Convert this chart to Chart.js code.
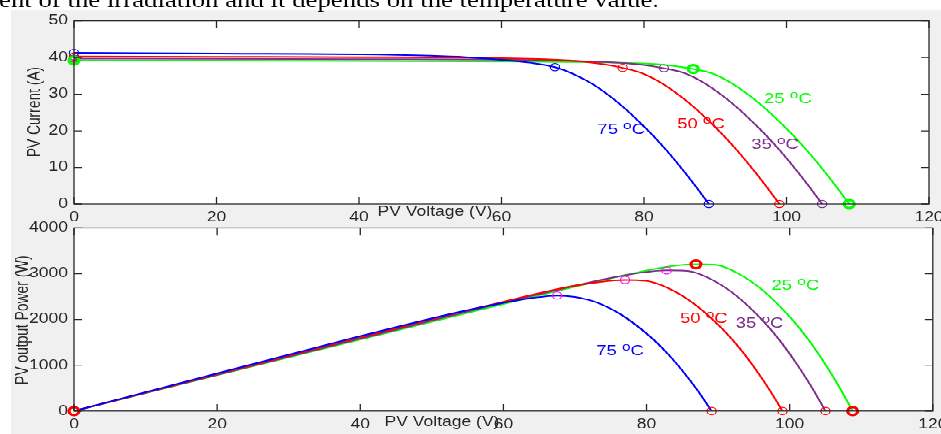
<!DOCTYPE html>
<html><head><meta charset="utf-8">
<script src="https://cdn.jsdelivr.net/npm/chart.js@4.4.1/dist/chart.umd.min.js"></script>
<style>
html,body{margin:0;padding:0;background:#fff;overflow:hidden;width:941px;height:434px;}
#wrap{position:absolute;left:0;top:0;width:941px;height:551px;transform:scaleY(0.78766);transform-origin:0 0;}
#bg{position:absolute;left:11px;top:12.7px;width:930px;height:539px;background:#f0f0f0;}
canvas{position:absolute;left:0;top:0;}
</style></head>
<body>
<div id="wrap">
<div id="bg"></div>
<canvas id="c1" width="941" height="551"></canvas>
<canvas id="c2" width="941" height="551"></canvas>
</div>
<script>
// ---------------- data ----------------
const voltageTicks = [0, 20, 40, 60, 80, 100, 120];
const currentTicks = [0, 10, 20, 30, 40, 50];
const powerTicks = [0, 1000, 2000, 3000, 4000];
const tempNames = ['25', '35', '50', '75'];

// 25 °C
const v25 = [0, 20, 40, 70, 79.5, 83.5, 86.9, 89.7, 92.7, 96.3, 100.1, 102.7, 104.7, 106.7, 108.8];
const i25 = [39.2, 39.15, 39.05, 38.8, 38.4, 37.9, 36.9, 35.6, 32.5, 27.3, 20.4, 15.0, 10.4, 5.5, 0];
const p25 = [0, 783, 1562, 2716, 3053, 3165, 3207, 3193, 3013, 2629, 2042, 1541, 1089, 587, 0];
// 35 °C
const v35 = [0, 20, 40, 65, 75.5, 79.5, 82.8, 85.9, 88.9, 92.5, 96.3, 98.9, 100.9, 102.9, 105.0];
const i35 = [39.7, 39.65, 39.55, 39.3, 38.7, 38.1, 37.1, 35.6, 32.5, 27.3, 20.4, 15.0, 10.4, 5.5, 0];
const p35 = [0, 793, 1582, 2555, 2922, 3029, 3072, 3058, 2889, 2525, 1965, 1484, 1049, 566, 0];
// 50 °C
const v50 = [0, 20, 40, 60, 69.5, 73.5, 77.0, 79.9, 82.9, 86.5, 90.3, 92.9, 94.9, 96.9, 99.0];
const i50 = [40.3, 40.2, 40.1, 39.8, 39.2, 38.4, 37.2, 35.6, 32.5, 27.3, 20.4, 15.0, 10.4, 5.5, 0];
const p50 = [0, 804, 1604, 2388, 2724, 2822, 2864, 2844, 2694, 2361, 1842, 1394, 987, 533, 0];
// 75 °C
const v75 = [0, 20, 40, 50, 55, 60, 64, 67.5, 70, 73, 76.6, 80.4, 83, 85, 87, 89.1];
const i75 = [41.3, 41.1, 40.9, 40.5, 40.1, 39.4, 38.6, 37.4, 35.6, 32.5, 27.3, 20.4, 15.0, 10.4, 5.5, 0];
const p75 = [0, 822, 1636, 2025, 2206, 2364, 2470, 2525, 2492, 2373, 2091, 1640, 1245, 884, 479, 0];

// marked points, order 25, 35, 50, 75
const mppV = [86.9, 82.8, 77.0, 67.5];
const mppI = [36.9, 37.1, 37.2, 37.4];
const mppP = [3207, 3072, 2864, 2525];
const vocV = [108.8, 105.0, 99.0, 89.1];
const iscI = [39.2, 39.7, 40.3, 41.3];

// label anchors (data coords)
const ivLabelV = [100.2, 98.4, 88.0, 76.8];
const ivLabelI = [29.0, 16.4, 22.1, 20.5];
const pvLabelV = [100.8, 95.8, 88.0, 76.3];
const pvLabelP = [2761, 1935, 2043, 1326];

const caption = 'dent of the irradiation and it depends on the temperature value.';

// ---------------- styling ----------------
const S = 551 / 434;
const colors = ['#00ff00', '#7e2f8e', '#ff0000', '#0000ff'];
const MAG = '#ff00ff';
const AX = '#262626';
const FONT = '"Liberation Sans", Arial, sans-serif';

function pts(xs, ys) { return xs.map((x, k) => ({ x: x, y: ys[k] })); }

function lineDs(xs, ys, color) {
  return { data: pts(xs, ys), showLine: true, borderColor: color, borderWidth: 2,
    pointRadius: 0, fill: false, cubicInterpolationMode: 'monotone' };
}
function markDs(points, color, bold) {
  return { data: points, showLine: false, pointStyle: 'circle',
    pointRadius: bold ? 5 : 4.6, pointBorderWidth: bold ? 3.2 : 1.2,
    pointBorderColor: color, pointBackgroundColor: 'rgba(0,0,0,0)', clip: false };
}

function drawTemp(ctx, num, cx, cy, color) {
  ctx.save();
  ctx.fillStyle = color;
  ctx.textAlign = 'left';
  ctx.textBaseline = 'alphabetic';
  const big = '18.5px ' + FONT, small = '15.5px ' + FONT;
  ctx.font = big;
  const w1 = ctx.measureText(num + ' ').width;
  const wC = ctx.measureText('C').width;
  ctx.font = small;
  const wO = ctx.measureText('o').width;
  const total = w1 + wO + wC;
  let x = cx - total / 2;
  const base = cy + 6.6;
  ctx.font = big; ctx.fillText(num + ' ', x, base); x += w1;
  ctx.font = small; ctx.fillText('o', x, base - 6.2); x += wO;
  ctx.font = big; ctx.fillText('C', x, base);
  ctx.restore();
}

function makeDeco(cfg) {
  return {
    id: 'deco',
    beforeDraw(chart) {
      const { ctx, chartArea: a } = chart;
      ctx.save();
      ctx.fillStyle = '#ffffff';
      ctx.fillRect(a.left, a.top, a.right - a.left, a.bottom - a.top);
      ctx.restore();
    },
    afterDraw(chart) {
      const { ctx, chartArea: a } = chart;
      const xs = chart.scales.x, ys = chart.scales.y;
      ctx.save();
      ctx.strokeStyle = AX; ctx.lineWidth = 1.3;
      ctx.strokeRect(a.left, a.top, a.right - a.left, a.bottom - a.top);
      ctx.beginPath();
      voltageTicks.forEach(v => {
        const px = xs.getPixelForValue(v);
        ctx.moveTo(px, a.bottom); ctx.lineTo(px, a.bottom - 8.9);
        ctx.moveTo(px, a.top); ctx.lineTo(px, a.top + 8.9);
      });
      cfg.yTicks.forEach(v => {
        const py = ys.getPixelForValue(v);
        ctx.moveTo(a.left, py); ctx.lineTo(a.left + 8, py);
        ctx.moveTo(a.right, py); ctx.lineTo(a.right - 8, py);
      });
      ctx.stroke();
      // axis titles
      ctx.fillStyle = AX;
      ctx.font = '17.5px ' + FONT;
      ctx.textAlign = 'center'; ctx.textBaseline = 'middle';
      ctx.fillText('PV Voltage (V)', cfg.xTitleX, cfg.xTitleY);
      ctx.save();
      ctx.translate(cfg.yTitleX, cfg.yTitleY);
      ctx.rotate(-Math.PI / 2);
      ctx.fillText(cfg.yTitle, 0, 0);
      ctx.restore();
      // curve labels
      cfg.labV.forEach((v, k) => {
        drawTemp(ctx, tempNames[k], xs.getPixelForValue(v), ys.getPixelForValue(cfg.labY[k]), colors[k]);
      });
      if (cfg.caption) {
        ctx.fillStyle = '#000';
        ctx.textAlign = 'left'; ctx.textBaseline = 'alphabetic';
        ctx.font = '24px "Liberation Serif", serif';
        const rest = caption.slice(1);
        const w = ctx.measureText(rest).width;
        const fs = 24 * 660 / w;
        ctx.font = fs.toFixed(2) + 'px "Liberation Serif", serif';
        const wd = ctx.measureText(caption[0]).width;
        ctx.fillText(caption, -wd - 1, 7.2 * S);
      }
      ctx.restore();
    }
  };
}

function buildChart(id, cfg) {
  const tickFont = { family: FONT, size: 17.5 };
  return new Chart(document.getElementById(id), {
    type: 'scatter',
    data: { datasets: cfg.datasets },
    options: {
      responsive: false, animation: false, devicePixelRatio: 1,
      layout: { padding: { left: 0, top: cfg.top, right: cfg.right, bottom: 0 } },
      plugins: { legend: { display: false }, tooltip: { enabled: false } },
      scales: {
        x: {
          type: 'linear', min: 0, max: 120,
          afterBuildTicks: s => { s.ticks = voltageTicks.map(v => ({ value: v })); },
          grid: { display: false, drawTicks: false }, border: { display: false },
          ticks: { color: AX, font: tickFont, padding: 6.6, autoSkip: false, maxRotation: 0,
            callback: v => String(v) },
          afterFit: s => { s.height = cfg.xH; s.paddingLeft = 0; s.paddingRight = 0; s.paddingTop = 0; s.paddingBottom = 0; }
        },
        y: {
          type: 'linear', min: cfg.yTicks[0], max: cfg.yTicks[cfg.yTicks.length - 1],
          afterBuildTicks: s => { s.ticks = cfg.yTicks.map(v => ({ value: v })); },
          grid: { display: false, drawTicks: false }, border: { display: false },
          ticks: { color: AX, font: tickFont, padding: 6, autoSkip: false, callback: v => String(v) },
          afterFit: s => { s.width = 74; s.paddingLeft = 0; s.paddingRight = 0; s.paddingTop = 0; s.paddingBottom = 0; }
        }
      }
    },
    plugins: [makeDeco(cfg)]
  });
}

// ---------------- top chart: I-V ----------------
const ivSeries = [[v25, i25], [v35, i35], [v50, i50], [v75, i75]];
const ivDatasets = [];
[0, 1, 2, 3].forEach(k => {
  const bold = k === 0;
  ivDatasets.push(markDs([{ x: 0, y: iscI[k] }, { x: mppV[k], y: mppI[k] }, { x: vocV[k], y: 0 }], colors[k], bold));
});
[3, 2, 1, 0].forEach(k => ivDatasets.push(lineDs(ivSeries[k][0], ivSeries[k][1], colors[k])));

buildChart('c1', {
  datasets: ivDatasets, top: 21 * S, right: 941 - 929, xH: 551 - 204 * S,
  yTicks: currentTicks, yTitle: 'PV Current (A)', yTitleX: 35, yTitleY: 112 * S,
  xTitleX: 435, xTitleY: 212 * S, labV: ivLabelV, labY: ivLabelI, caption: true
});

// ---------------- bottom chart: P-V ----------------
const pvSeries = [[v25, p25], [v35, p35], [v50, p50], [v75, p75]];
const pvDatasets = [];
pvDatasets.push(markDs([{ x: 0, y: 0 }, { x: mppV[0], y: mppP[0] }, { x: vocV[0], y: 0 }], '#ff0000', true));
[1, 2, 3].forEach(k => {
  pvDatasets.push(markDs([{ x: mppV[k], y: mppP[k] }], MAG, false));
  pvDatasets.push(markDs([{ x: vocV[k], y: 0 }], '#ff0000', false));
});
[3, 2, 1, 0].forEach(k => pvDatasets.push(lineDs(pvSeries[k][0], pvSeries[k][1], colors[k])));

buildChart('c2', {
  datasets: pvDatasets, top: 228 * S, right: 941 - 933, xH: 551 - 411 * S,
  yTicks: powerTicks, yTitle: 'PV output Power (W)', yTitleX: 23, yTitleY: 320 * S,
  xTitleX: 442, xTitleY: 422 * S, labV: pvLabelV, labY: pvLabelP, caption: false
});
</script>
</body></html>
